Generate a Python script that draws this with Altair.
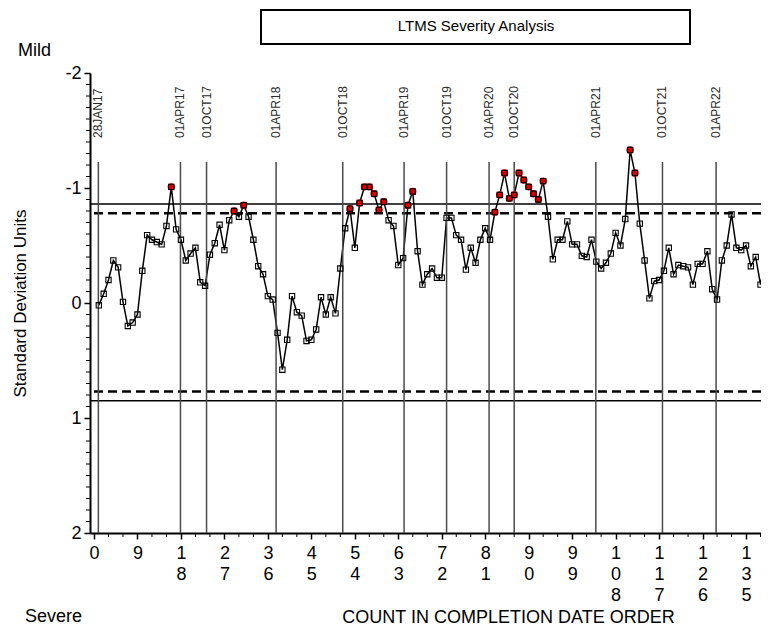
import altair as alt
import pandas as pd

# ---------------- data ----------------
counts = list(range(1, 140))
sdu = [
    0.02, -0.08, -0.20, -0.37, -0.31, -0.01, 0.20, 0.17, 0.10, -0.28,
    -0.59, -0.55, -0.53, -0.51, -0.67, -1.01, -0.64, -0.55, -0.37, -0.43,
    -0.48, -0.18, -0.15, -0.42, -0.52, -0.68, -0.46, -0.72, -0.80, -0.75,
    -0.85, -0.75, -0.55, -0.32, -0.25, -0.06, -0.03, 0.26, 0.58, 0.32,
    -0.06, 0.08, 0.11, 0.33, 0.32, 0.23, -0.05, 0.10, -0.05, 0.09,
    -0.30, -0.65, -0.82, -0.48, -0.87, -1.01, -1.01, -0.95, -0.81, -0.88,
    -0.72, -0.67, -0.33, -0.39, -0.85, -0.97, -0.45, -0.16, -0.25, -0.30,
    -0.22, -0.22, -0.74, -0.74, -0.59, -0.55, -0.29, -0.48, -0.35, -0.55,
    -0.65, -0.55, -0.79, -0.94, -1.13, -0.91, -0.94, -1.13, -1.07, -1.01,
    -0.95, -0.90, -1.06, -0.75, -0.38, -0.55, -0.55, -0.71, -0.51, -0.51,
    -0.41, -0.40, -0.55, -0.36, -0.30, -0.35, -0.43, -0.61, -0.50, -0.73,
    -1.33, -1.13, -0.69, -0.37, -0.04, -0.19, -0.20, -0.28, -0.48, -0.25,
    -0.33, -0.32, -0.31, -0.16, -0.34, -0.34, -0.45, -0.12, -0.03, -0.37,
    -0.50, -0.77, -0.48, -0.46, -0.50, -0.32, -0.40, -0.16, -0.37,
]
date_labels = ["28JAN17", "01APR17", "01OCT17", "01APR18", "01OCT18", "01APR19",
               "01OCT19", "01APR20", "01OCT20", "01APR21", "01OCT21", "01APR22"]
date_pos = [0.9, 17.9, 23.3, 37.7, 51.5, 64.2, 73.0, 81.8, 87.0, 103.9, 117.7, 128.8]
solid_limits = [-0.86, 0.85]
dashed_limits = [-0.78, 0.77]
mild_threshold = -0.78
x_ticks = [0, 9, 18, 27, 36, 45, 54, 63, 72, 81, 90, 99, 108, 117, 126, 135]
x_minor = [3, 6, 12, 15, 21, 24, 30, 33, 39, 42, 48, 51, 57, 60, 66, 69, 75, 78,
           84, 87, 93, 96, 102, 105, 111, 114, 120, 123, 129, 132, 138]
y_ticks = [-2, -1, 0, 1, 2]
y_minor = [v / 10 for v in range(-20, 21) if v % 10 != 0]

FONT = "Liberation Sans"

df = pd.DataFrame({"count": counts, "sdu": sdu})
dates = pd.DataFrame({"count": date_pos, "label": date_labels})
solid = pd.DataFrame({"sdu": solid_limits})
dashed = pd.DataFrame({"sdu": dashed_limits})
xminor = pd.DataFrame({"count": x_minor})
yminor = pd.DataFrame({"sdu": y_minor})
one = pd.DataFrame({"k": [0]})

xscale = alt.Scale(domain=[-0.83, 138.1], nice=False, zero=False)
yscale = alt.Scale(domain=[-2, 2], reverse=True, nice=False, zero=False)

x_axis = alt.Axis(
    values=x_ticks, labelExpr="split(toString(datum.value), '')",
    labelFontSize=18, labelFont=FONT, labelLineHeight=21, labelBaseline="top",
    labelPadding=5, labelColor="black", labelFlush=False, labelOverlap=False,
    tickSize=6, tickColor="black", tickWidth=1.5,
    domainColor="black", domainWidth=2, grid=False,
    title="COUNT IN COMPLETION DATE ORDER", titleFont=FONT, titleFontSize=18,
    titleFontWeight="normal", titleColor="black", titleX=418, titleY=89,
    titleBaseline="alphabetic", titleAlign="center",
)
y_axis = alt.Axis(
    values=y_ticks, labelExpr="toString(datum.value)",
    labelFontSize=18, labelFont=FONT, labelPadding=3, labelColor="black",
    tickSize=6, tickColor="black", tickWidth=1.5,
    domainColor="black", domainWidth=2, grid=False,
    title="Standard Deviation Units", titleFont=FONT, titleFontSize=17,
    titleFontWeight="normal", titleColor="black", titleX=-70, titleY=230,
    titleAngle=270, titleAlign="center", titleBaseline="middle",
)

X = alt.X("count:Q", scale=xscale, axis=x_axis)
Y = alt.Y("sdu:Q", scale=yscale, axis=y_axis)

solid_rules = alt.Chart(solid).mark_rule(color="black", strokeWidth=1.5).encode(y=Y)
dashed_rules = alt.Chart(dashed).mark_rule(color="black", strokeWidth=2.5, strokeDash=[9, 5]).encode(y=Y)

vlines = alt.Chart(dates).mark_rule(color="#4a4a4a", strokeWidth=1.5).encode(
    x=X, y=alt.value(89), y2=alt.value(460))
vlabels = alt.Chart(dates).mark_text(
    angle=270, align="left", baseline="middle", dx=10, fontSize=12, font=FONT, color="#2a2a2a"
).encode(x=X, y=alt.value(75), text="label:N")

xminor_ticks = alt.Chart(xminor).mark_rule(color="black", strokeWidth=1).encode(
    x=X, y=alt.value(460), y2=alt.value(464))
yminor_ticks = alt.Chart(yminor).mark_rule(color="black", strokeWidth=1).encode(
    y=Y, x=alt.value(-4), x2=alt.value(0))

line = alt.Chart(df).mark_line(color="black", strokeWidth=1.5).encode(x=X, y=Y)
red = alt.Chart(df).transform_filter(alt.datum.sdu < mild_threshold).mark_point(
    shape="circle", filled=True, color="#dd0000", size=55, opacity=1
).encode(x=X, y=Y)
squares = alt.Chart(df).mark_point(
    shape="square", filled=False, color="black", size=28, strokeWidth=1.1, opacity=1
).encode(x=X, y=Y)

box = alt.Chart(one).mark_rect(fill="white", stroke="black", strokeWidth=2).encode(
    x=alt.value(171), x2=alt.value(600), y=alt.value(-63), y2=alt.value(-29))
box_text = alt.Chart(one).mark_text(fontSize=15, font=FONT, color="black", align="center",
                                    baseline="middle").encode(
    x=alt.value(386), y=alt.value(-47), text=alt.value("LTMS Severity Analysis"))
mild = alt.Chart(one).mark_text(fontSize=18, font=FONT, color="black", align="left",
                                baseline="alphabetic").encode(
    x=alt.value(-72), y=alt.value(-17), text=alt.value("Mild"))
severe = alt.Chart(one).mark_text(fontSize=18, font=FONT, color="black", align="left",
                                  baseline="alphabetic").encode(
    x=alt.value(-65), y=alt.value(549), text=alt.value("Severe"))

chart = alt.layer(
    line, solid_rules, dashed_rules, vlines, vlabels, xminor_ticks, yminor_ticks,
    red, squares, box, box_text, mild, severe,
).properties(
    width=671, height=460,
    padding={"left": 82, "top": 65, "right": 0, "bottom": 94},
    autosize=alt.AutoSizeParams(type="none"),
).configure(font=FONT).configure_view(stroke=None)

chart.save("out.html", embed_options={"renderer": "svg", "actions": False})
